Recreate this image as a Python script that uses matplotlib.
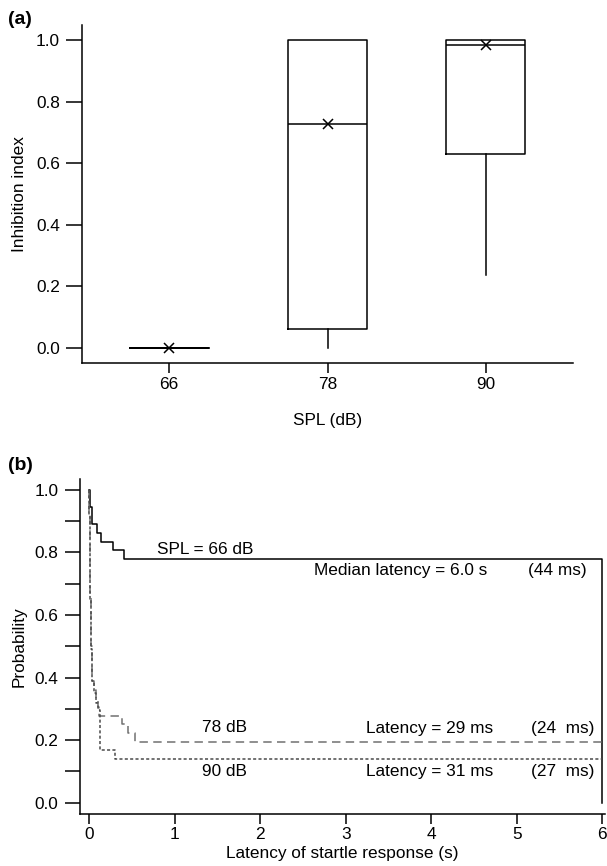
import matplotlib.pyplot as plt
from matplotlib.ticker import MultipleLocator

plt.rcParams['font.family'] = ['Liberation Sans', 'DejaVu Sans']
plt.rcParams['font.size'] = 12.4

# (a) inhibition index per SPL, box summaries
spl = [66, 78, 90]
q1 = [0.0, 0.06, 0.63]
med = [0.0, 0.727, 0.984]
q3 = [0.0, 1.0, 1.0]
whislo = [0.0, 0.0, 0.237]
whishi = [0.0, 1.0, 1.0]
means = [0.0, 0.727, 0.984]

# (b) probability of no startle response vs latency (step curves)
t66 = [0.0, 0.01, 0.035, 0.093, 0.144, 0.28, 0.405, 6.0]
p66 = [1.0, 0.944, 0.889, 0.861, 0.833, 0.806, 0.778, 0.0]

t78 = [0.0, 0.004, 0.008, 0.012, 0.016, 0.02, 0.025, 0.03, 0.035, 0.04,
       0.06, 0.08, 0.1, 0.112, 0.385, 0.456, 0.54, 6.0]
p78 = [1.0, 0.93, 0.85, 0.76, 0.67, 0.58, 0.5, 0.45, 0.42, 0.39,
       0.36, 0.33, 0.305, 0.278, 0.25, 0.222, 0.194, 0.194]

t90 = [0.0, 0.004, 0.008, 0.012, 0.016, 0.02, 0.025, 0.03, 0.035, 0.04,
       0.06, 0.08, 0.1, 0.124, 0.307, 6.0]
p90 = [1.0, 0.92, 0.83, 0.74, 0.65, 0.56, 0.49, 0.44, 0.41, 0.39,
       0.35, 0.32, 0.295, 0.167, 0.139, 0.139]

fig = plt.figure(figsize=(6.07, 8.66), dpi=100)

# ---- panel (a)
ax = fig.add_axes([0.1351, 0.5812, 0.8089, 0.3899])
stats = []
for i in range(len(spl)):
    stats.append(dict(med=med[i], q1=q1[i], q3=q3[i], whislo=whislo[i],
                      whishi=whishi[i], mean=means[i], fliers=[]))
ax.bxp(stats, positions=spl, widths=6, showcaps=False, showfliers=False,
       showmeans=True, manage_ticks=False,
       boxprops=dict(color='k', lw=1.1),
       medianprops=dict(color='k', lw=1.1),
       whiskerprops=dict(color='k', lw=1.1),
       meanprops=dict(marker='x', markeredgecolor='k', markerfacecolor='k',
                      markersize=7.5, markeredgewidth=1.1))
ax.set_xlim(59.4, 96.6)
ax.set_ylim(-0.049, 1.049)
ax.set_xticks(spl)
ax.set_yticks([0.0, 0.2, 0.4, 0.6, 0.8, 1.0])
ax.set_yticklabels(['0.0', '0.2', '0.4', '0.6', '0.8', '1.0'])
ax.spines['top'].set_visible(False)
ax.spines['right'].set_visible(False)
for s in ['left', 'bottom']:
    ax.spines[s].set_linewidth(1.1)
ax.tick_params(axis='y', length=11.5, width=1.1, pad=4.5)
ax.tick_params(axis='x', length=7.5, width=1.1, pad=3)
ax.set_ylabel('Inhibition index', labelpad=6)
ax.set_xlabel('SPL (dB)', labelpad=15)

# ---- panel (b)
ax2 = fig.add_axes([0.1318, 0.0600, 0.8649, 0.3865])
ax2.step(t66, p66, where='post', color='k', lw=1.1)
ax2.step(t78, p78, where='post', color='#707070', lw=1.1,
         linestyle=(0, (5.5, 3.5)))
ax2.step(t90, p90, where='post', color='#4a4a4a', lw=1.1,
         linestyle=(0, (2.0, 1.5)))
ax2.set_xlim(-0.105, 6.03)
ax2.set_ylim(-0.036, 1.033)
ax2.set_xticks([0, 1, 2, 3, 4, 5, 6])
ax2.set_yticks([0.0, 0.2, 0.4, 0.6, 0.8, 1.0])
ax2.set_yticklabels(['0.0', '0.2', '0.4', '0.6', '0.8', '1.0'])
ax2.yaxis.set_minor_locator(MultipleLocator(0.1))
ax2.spines['top'].set_visible(False)
ax2.spines['right'].set_visible(False)
for s in ['left', 'bottom']:
    ax2.spines[s].set_linewidth(1.1)
ax2.tick_params(axis='y', which='both', length=11, width=1.1, pad=4.5)
ax2.tick_params(axis='x', length=7, width=1.1, pad=2)
ax2.set_ylabel('Probability', labelpad=6)
ax2.set_xlabel('Latency of startle response (s)', labelpad=3)

ax2.text(0.80, 0.81, 'SPL = 66 dB', va='center')
ax2.text(2.63, 0.743, 'Median latency = 6.0 s', va='center')
ax2.text(5.13, 0.743, '(44 ms)', va='center')
ax2.text(1.32, 0.241, '78 dB', va='center')
ax2.text(3.24, 0.238, 'Latency = 29 ms', va='center')
ax2.text(5.17, 0.238, '(24  ms)', va='center')
ax2.text(1.32, 0.099, '90 dB', va='center')
ax2.text(3.24, 0.099, 'Latency = 31 ms', va='center')
ax2.text(5.17, 0.099, '(27  ms)', va='center')

fig.text(8 / 607, 1 - 20 / 866, '(a)', fontweight='bold', va='center',
         fontsize=14)
fig.text(8 / 607, 1 - 466 / 866, '(b)', fontweight='bold', va='center',
         fontsize=14)

fig.savefig('out.png', dpi=100)
